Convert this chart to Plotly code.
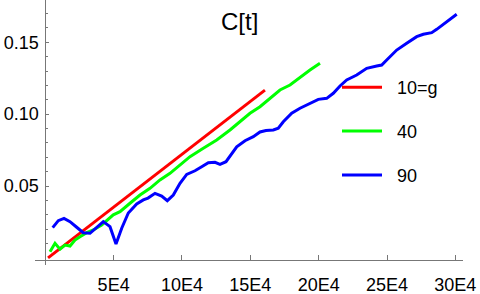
import plotly.graph_objects as go

# ---- data ----
red_t = [2000, 160700]
red_c = [0.0, 0.1167]

green_t = [3440, 7100, 10750, 14400, 18070, 21730, 25390, 30290, 35120, 41260,
           49750, 54650, 61960, 69280, 76600, 83910, 91230, 105860, 115590,
           125400, 135130, 142440, 149760, 157070, 164390, 171700, 179020,
           186330, 193650, 200960]
green_c = [0.0043, 0.0101, 0.0060, 0.0089, 0.0082, 0.0124, 0.0147, 0.0175,
           0.0194, 0.0229, 0.0299, 0.0321, 0.0380, 0.0437, 0.0484, 0.0542,
           0.0588, 0.0704, 0.0762, 0.0820, 0.0890, 0.0947, 0.1006, 0.1052,
           0.1110, 0.1168, 0.1203, 0.1256, 0.1307, 0.1354]

blue_t = [5414, 9511, 13681, 18071, 22972, 27801, 32703, 37604, 42433, 47335,
          51724, 55894, 60723, 66868, 71697, 75135, 80256, 85158, 89255, 93645,
          98547, 103448, 109520, 114422, 119251, 124152, 127811, 132200, 135127,
          140028, 146101, 152173, 157075, 161464, 166805, 170463, 174121,
          180266, 186339, 193655, 199727, 205872, 210701, 215603, 220504,
          227820, 235136, 242452, 246110, 249768, 257084, 264400, 271716,
          276545, 282690, 286348, 293664, 300980]
blue_c = [0.0210, 0.0259, 0.0275, 0.0252, 0.0213, 0.0175, 0.0171, 0.0213,
          0.0252, 0.0217, 0.0096, 0.0206, 0.0312, 0.0375, 0.0403, 0.0416,
          0.0449, 0.0430, 0.0398, 0.0437, 0.0519, 0.0581, 0.0606, 0.0634,
          0.0662, 0.0665, 0.0651, 0.0669, 0.0709, 0.0773, 0.0815, 0.0843,
          0.0876, 0.0886, 0.0890, 0.0902, 0.0947, 0.1006, 0.1041, 0.1076,
          0.1103, 0.1110, 0.1145, 0.1196, 0.1238, 0.1272, 0.1319, 0.1335,
          0.1342, 0.1377, 0.1446, 0.1493, 0.1539, 0.1556, 0.1567, 0.1590,
          0.1643, 0.1695]

series_names = ["10=g", "40", "90"]
series_colors = ["#ff0000", "#00ff00", "#0000ff"]

x_tickvals = [50000, 100000, 150000, 200000, 250000, 300000]
x_ticktext = ["5E4", "10E4", "15E4", "20E4", "25E4", "30E4"]
y_tickvals = [0.05, 0.10, 0.15]
y_ticktext = ["0.05", "0.10", "0.15"]

FONT = "Liberation Sans, Arial, sans-serif"
AXIS = "#777777"

fig = go.Figure()
for i, (t, c) in enumerate([(red_t, red_c), (green_t, green_c), (blue_t, blue_c)]):
    fig.add_trace(go.Scatter(x=t, y=c, mode="lines",
                             name="\u00a0\u00a0" + series_names[i],
                             legendgroup=f"g{i}",
                             line=dict(color=series_colors[i], width=3)))

fig.update_layout(
    width=480, height=294,
    margin=dict(l=35, r=17, t=0, b=29, autoexpand=False),
    plot_bgcolor="white", paper_bgcolor="white",
    font=dict(family=FONT, size=18, color="black"),
    title=dict(text="C[t]", x=239.7 / 480, xref="container", xanchor="center",
               y=1 - 21.85 / 294, yref="container", yanchor="middle",
               font=dict(size=24, family=FONT, color="black")),
    showlegend=True,
    legend=dict(x=(337 - 35) / 428, y=1 - 69 / 265, xanchor="left", yanchor="top",
                bgcolor="rgba(0,0,0,0)", font=dict(size=18, family=FONT),
                tracegroupgap=17.5, itemwidth=40),
)
fig.update_xaxes(range=[-7535, 305590], showgrid=False, zeroline=False,
                 showline=True, linecolor=AXIS, linewidth=1,
                 anchor="free", position=5 / 265, automargin=False,
                 ticks="inside", ticklen=5, tickcolor=AXIS, tickwidth=1,
                 ticklabelstandoff=8,
                 tickvals=x_tickvals, ticktext=x_ticktext,
                 tickfont=dict(size=18, family=FONT, color="black"))
fig.update_yaxes(range=[-0.00498, 0.17944], showgrid=False, zeroline=False,
                 showline=True, linecolor=AXIS, linewidth=1,
                 anchor="free", position=10.3 / 428, automargin=False,
                 ticks="inside", ticklen=3, tickcolor=AXIS, tickwidth=1,
                 ticklabelstandoff=3,
                 tickvals=y_tickvals, ticktext=y_ticktext,
                 minor=dict(tickvals=[0.01, 0.02, 0.03, 0.04, 0.06, 0.07, 0.08,
                                      0.09, 0.11, 0.12, 0.13, 0.14, 0.16, 0.17],
                            ticks="inside", ticklen=2, tickcolor=AXIS),
                 tickfont=dict(size=18, family=FONT, color="black"))

fig.write_html("out.html", config={"displayModeBar": False},
               post_script="document.body.style.margin='0';document.body.style.padding='0';")
